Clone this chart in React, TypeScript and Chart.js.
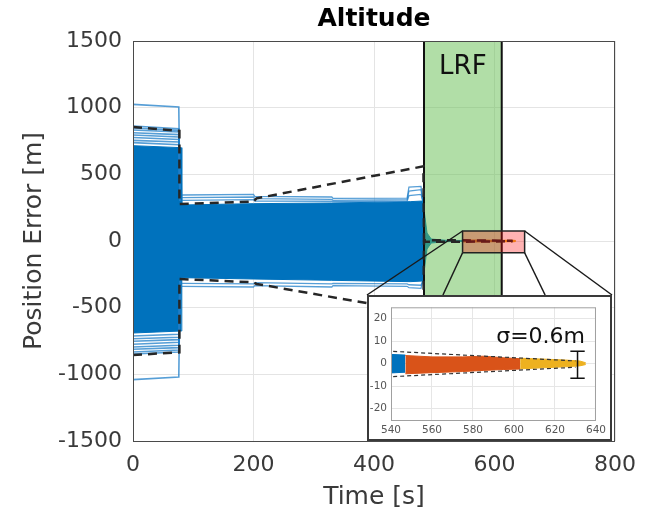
import React, { useEffect, useRef } from 'react';
import { Chart, registerables } from 'chart.js';

Chart.register(...registerables);

// ---------------- Main axes ----------------
const mainXTicks = [0, 200, 400, 600, 800];
const mainYTicks = [-1500, -1000, -500, 0, 500, 1000, 1500];
const mainXRange = [0, 800];
const mainYRange = [-1500, 1500];

// ---------------- Dense Monte Carlo spread (blue) ----------------
const denseTime = [0, 80, 81, 200, 330, 460, 481, 484, 488, 495, 520, 547];
const denseUpper = [715, 700, 270, 280, 285, 295, 300, 200, 60, 15, 5, 3.8];
const denseLower = [-690, -675, -275, -285, -295, -305, -300, -200, -60, -15, -5, -3.8];

// ---------------- Individual outlying runs (light blue) ----------------
const earlyRunTime = [0, 76, 78];
const earlyRuns = [
  [1025, 1005, 300],
  [862, 842, 300],
  [848, 830, 300],
  [833, 818, 300],
  [812, 798, 300],
  [795, 780, 300],
  [776, 762, 300],
  [755, 742, 300],
  [738, 722, 300],
  [-1040, -1020, -300],
  [-848, -832, -300],
  [-832, -818, -300],
  [-812, -800, -300],
  [-795, -782, -300],
  [-774, -760, -300],
  [-752, -740, -300],
  [-733, -722, -300],
  [-712, -700, -300],
];
const lateRunTime = [81, 200, 202, 330, 332, 455, 458, 478, 481];
const lateRuns = [
  [345, 350, 335, 330, 320, 322, 405, 410, 300],
  [325, 330, 318, 312, 305, 310, 375, 385, 300],
  [305, 310, 300, 298, 296, 300, 340, 350, 300],
  [-340, -345, -335, -345, -335, -340, -350, -355, -300],
  [-318, -322, -312, -322, -318, -322, -328, -332, -300],
];

// ---------------- 3-sigma envelope (dashed) ----------------
const sigmaTime = [0, 77, 77, 200, 205, 482, 483, 540, 630];
const sigmaUpper = [855, 825, 277, 295, 320, 560, 6, 5.5, 1.2];
const sigmaLower = [-855, -835, -285, -310, -322, -540, -6, -5.8, -1.6];

// ---------------- LRF phase bands ----------------
const orangeTime = [547, 560, 575, 585, 595, 603];
const orangeUpper = [3.6, 3.0, 3.0, 3.3, 2.6, 2.2];
const orangeLower = [-4.5, -4.0, -3.5, -3.0, -2.6, -2.4];
const yellowTime = [603, 615, 625, 632, 635];
const yellowUpper = [2.4, 2.0, 1.6, 1.2, 0.4];
const yellowLower = [-2.3, -1.8, -1.4, -1.0, -0.4];

// ---------------- Windows ----------------
const lrfWindow = [483, 612];
const zoomTimeWindow = [547, 650];
const zoomErrorWindow = [-88, 75];

// ---------------- Inset axes ----------------
const insetXTicks = [540, 560, 580, 600, 620, 640];
const insetYTicks = [-20, -10, 0, 10, 20];
const insetXRange = [540, 640];
const insetYRange = [-25, 25];
const sigmaBarTime = 631;
const sigmaBarRange = [-6.5, 5.5];
const sigmaBarCap = 3.5;

// ---------------- Texts ----------------
const titleText = 'Altitude';
const xTitle = 'Time [s]';
const yTitle = 'Position Error [m]';
const lrfText = 'LRF';
const sigmaText = 'σ=0.6m';

// ---------------- Style / layout ----------------
const FONT = "'DejaVu Sans', sans-serif";
const BLUE = '#0072BD';
const RUN = 'rgba(30,125,200,0.75)';
const ORANGE = '#D95319';
const YELLOW = '#EDB120';
const INSET = { left: 367, top: 295, width: 245, height: 146, border: 2 };

const pts = (xs: number[], ys: number[]) => xs.map((x, i) => ({ x, y: ys[i] }));
const rectPts = (xw: number[], yw: number[]) => [
  { x: xw[0], y: yw[0] },
  { x: xw[0], y: yw[1] },
  { x: xw[1], y: yw[1] },
  { x: xw[1], y: yw[0] },
  { x: xw[0], y: yw[0] },
];
const base = { pointRadius: 0, pointHoverRadius: 0, borderWidth: 1, tension: 0, fill: false };

const framePlugin = (color: string, width: number) => ({
  id: 'frame',
  afterDatasetsDraw(chart: any) {
    const { ctx, chartArea: a } = chart;
    ctx.save();
    ctx.strokeStyle = color;
    ctx.lineWidth = width;
    ctx.strokeRect(a.left + 0.5, a.top + 0.5, a.right - a.left - 1, a.bottom - a.top);
    ctx.restore();
  },
});

const mainAnnotations = {
  id: 'mainAnnotations',
  afterDraw(chart: any) {
    const { ctx, scales, chartArea } = chart;
    const xs = scales.x;
    const ys = scales.y;
    ctx.save();
    ctx.fillStyle = '#111';
    ctx.font = `26px ${FONT}`;
    ctx.textAlign = 'center';
    ctx.textBaseline = 'middle';
    ctx.fillText(lrfText, xs.getPixelForValue((lrfWindow[0] + lrfWindow[1]) / 2), chartArea.top + 26);
    const x0 = xs.getPixelForValue(zoomTimeWindow[0]);
    const x1 = xs.getPixelForValue(zoomTimeWindow[1]);
    const yT = ys.getPixelForValue(zoomErrorWindow[1]);
    const yB = ys.getPixelForValue(zoomErrorWindow[0]);
    const iT = INSET.top;
    const lines = [
      [x0, yT, INSET.left, iT],
      [x1, yT, INSET.left + INSET.width, iT],
      [x0, yB, INSET.left + INSET.width * 0.31, iT],
      [x1, yB, INSET.left + INSET.width * 0.727, iT],
    ];
    ctx.strokeStyle = '#1a1a1a';
    ctx.lineWidth = 1.5;
    lines.forEach(([a, b, c, d]) => {
      ctx.beginPath();
      ctx.moveTo(a, b);
      ctx.lineTo(c, d);
      ctx.stroke();
    });
    ctx.restore();
  },
};

const insetAnnotations = {
  id: 'insetAnnotations',
  afterDraw(chart: any) {
    const { ctx, scales } = chart;
    ctx.save();
    ctx.fillStyle = '#111';
    ctx.font = `22px ${FONT}`;
    ctx.textAlign = 'center';
    ctx.textBaseline = 'middle';
    ctx.fillText(sigmaText, scales.x.getPixelForValue(613), scales.y.getPixelForValue(11.5));
    ctx.restore();
  },
};

function mainConfig(): any {
  const datasets: any[] = [
    { ...base, label: 'dense+', data: pts(denseTime, denseUpper), borderColor: BLUE, backgroundColor: BLUE, fill: '+1', order: 10 },
    { ...base, label: 'dense-', data: pts(denseTime, denseLower), borderColor: BLUE, order: 10 },
  ];
  earlyRuns.forEach((r, i) =>
    datasets.push({ ...base, label: 'early' + i, data: pts(earlyRunTime, r), borderColor: RUN, borderWidth: 1.6, order: 9 })
  );
  lateRuns.forEach((r, i) =>
    datasets.push({ ...base, label: 'late' + i, data: pts(lateRunTime, r), borderColor: RUN, borderWidth: 1.3, order: 9 })
  );
  datasets.push(
    { ...base, label: 'orange+', data: pts(orangeTime, orangeUpper), borderColor: ORANGE, backgroundColor: ORANGE, borderWidth: 2, fill: '+1', order: 8 },
    { ...base, label: 'orange-', data: pts(orangeTime, orangeLower), borderColor: ORANGE, borderWidth: 2, order: 8 },
    { ...base, label: 'yellow+', data: pts(yellowTime, yellowUpper), borderColor: YELLOW, backgroundColor: YELLOW, borderWidth: 2, fill: '+1', order: 8 },
    { ...base, label: 'yellow-', data: pts(yellowTime, yellowLower), borderColor: YELLOW, borderWidth: 2, order: 8 },
    { ...base, label: 'LRF', data: rectPts(lrfWindow, mainYRange), borderColor: '#111', backgroundColor: 'rgba(100,190,80,0.5)', borderWidth: 2, fill: 'shape', order: 5 },
    { ...base, label: 'sigma+', data: pts(sigmaTime, sigmaUpper), borderColor: '#262626', borderDash: [9, 6], borderWidth: 2.5, order: 3 },
    { ...base, label: 'sigma-', data: pts(sigmaTime, sigmaLower), borderColor: '#262626', borderDash: [9, 6], borderWidth: 2.5, order: 3 },
    { ...base, label: 'zoom', data: rectPts(zoomTimeWindow, zoomErrorWindow), borderColor: '#222', backgroundColor: 'rgba(255,0,0,0.3)', borderWidth: 1.5, fill: 'shape', order: 1 }
  );
  return {
    type: 'line',
    data: { datasets },
    options: {
      animation: false,
      responsive: false,
      devicePixelRatio: 1,
      events: [],
      layout: { padding: { left: 0, right: 45, top: 0, bottom: 0 } },
      plugins: {
        legend: { display: false },
        tooltip: { enabled: false },
        title: {
          display: true,
          text: titleText,
          fullSize: false,
          color: '#000',
          font: { family: FONT, size: 25, weight: 'bold', lineHeight: 1.2 },
          padding: { top: 4, bottom: 7 },
        },
      },
      scales: {
        x: {
          type: 'linear',
          min: mainXRange[0],
          max: mainXRange[1],
          afterBuildTicks: (s: any) => { s.ticks = mainXTicks.map((v) => ({ value: v })); },
          afterFit: (s: any) => { s.height = 73; },
          grid: { color: '#e4e4e4', drawTicks: false },
          border: { display: false },
          ticks: { color: '#3a3a3a', padding: 11, maxRotation: 0, font: { family: FONT, size: 22 }, callback: (v: any) => String(v) },
          title: { display: true, text: xTitle, color: '#3a3a3a', font: { family: FONT, size: 25, lineHeight: 1.2 }, padding: { top: 0, bottom: 2 } },
        },
        y: {
          type: 'linear',
          min: mainYRange[0],
          max: mainYRange[1],
          afterBuildTicks: (s: any) => { s.ticks = mainYTicks.map((v) => ({ value: v })); },
          afterFit: (s: any) => { s.width = 133; },
          grid: { color: '#e4e4e4', drawTicks: false },
          border: { display: false },
          ticks: { color: '#3a3a3a', padding: 11, font: { family: FONT, size: 22 }, callback: (v: any) => String(v) },
          title: { display: true, text: yTitle, color: '#3a3a3a', font: { family: FONT, size: 25, lineHeight: 1.2 }, padding: { top: 19, bottom: 0 } },
        },
      },
    },
    plugins: [framePlugin('#4a4a4a', 1), mainAnnotations],
  };
}

function insetConfig(): any {
  const datasets: any[] = [
    { ...base, label: 'dense+', data: pts(denseTime, denseUpper), borderColor: BLUE, backgroundColor: BLUE, fill: '+1', order: 10 },
    { ...base, label: 'dense-', data: pts(denseTime, denseLower), borderColor: BLUE, order: 10 },
    { ...base, label: 'orange+', data: pts(orangeTime, orangeUpper), borderColor: ORANGE, backgroundColor: ORANGE, fill: '+1', order: 8 },
    { ...base, label: 'orange-', data: pts(orangeTime, orangeLower), borderColor: ORANGE, order: 8 },
    { ...base, label: 'yellow+', data: pts(yellowTime, yellowUpper), borderColor: YELLOW, backgroundColor: YELLOW, fill: '+1', order: 8 },
    { ...base, label: 'yellow-', data: pts(yellowTime, yellowLower), borderColor: YELLOW, order: 8 },
    { ...base, label: 'sigma+', data: pts(sigmaTime, sigmaUpper), borderColor: '#333', borderDash: [4, 3], borderWidth: 1.2, order: 3 },
    { ...base, label: 'sigma-', data: pts(sigmaTime, sigmaLower), borderColor: '#333', borderDash: [4, 3], borderWidth: 1.2, order: 3 },
    { ...base, label: 'bar', data: [{ x: sigmaBarTime, y: sigmaBarRange[0] }, { x: sigmaBarTime, y: sigmaBarRange[1] }], borderColor: '#111', borderWidth: 1.5, order: 1 },
    { ...base, label: 'capTop', data: [{ x: sigmaBarTime - sigmaBarCap, y: sigmaBarRange[1] }, { x: sigmaBarTime + sigmaBarCap, y: sigmaBarRange[1] }], borderColor: '#111', borderWidth: 1.5, order: 1 },
    { ...base, label: 'capBot', data: [{ x: sigmaBarTime - sigmaBarCap, y: sigmaBarRange[0] }, { x: sigmaBarTime + sigmaBarCap, y: sigmaBarRange[0] }], borderColor: '#111', borderWidth: 1.5, order: 1 },
  ];
  return {
    type: 'line',
    data: { datasets },
    options: {
      animation: false,
      responsive: false,
      devicePixelRatio: 1,
      events: [],
      layout: { padding: { left: 0, right: 12, top: 6, bottom: 0 } },
      plugins: { legend: { display: false }, tooltip: { enabled: false }, title: { display: false } },
      scales: {
        x: {
          type: 'linear',
          min: insetXRange[0],
          max: insetXRange[1],
          afterBuildTicks: (s: any) => { s.ticks = insetXTicks.map((v) => ({ value: v })); },
          afterFit: (s: any) => { s.height = 19; },
          grid: { color: '#e6e6e6', drawTicks: false },
          border: { display: false },
          ticks: { color: '#555', padding: 4, maxRotation: 0, font: { family: FONT, size: 10.5 }, callback: (v: any) => String(v) },
        },
        y: {
          type: 'linear',
          min: insetYRange[0],
          max: insetYRange[1],
          afterBuildTicks: (s: any) => { s.ticks = insetYTicks.map((v) => ({ value: v })); },
          afterFit: (s: any) => { s.width = 22; },
          grid: { color: '#e6e6e6', drawTicks: false },
          border: { display: false },
          ticks: { color: '#555', padding: 4, font: { family: FONT, size: 10.5 }, callback: (v: any) => String(v) },
        },
      },
    },
    plugins: [framePlugin('#a0a0a0', 1), insetAnnotations],
  };
}

export default function App() {
  const mainRef = useRef<HTMLCanvasElement>(null);
  const insetRef = useRef<HTMLCanvasElement>(null);
  useEffect(() => {
    const main = new Chart(mainRef.current as HTMLCanvasElement, mainConfig());
    const inset = new Chart(insetRef.current as HTMLCanvasElement, insetConfig());
    return () => {
      main.destroy();
      inset.destroy();
    };
  }, []);
  const innerW = INSET.width - 2 * INSET.border;
  const innerH = INSET.height - 2 * INSET.border;
  return (
    <div style={{ position: 'absolute', left: 0, top: 0, width: 660, height: 514, background: '#fff' }}>
      <canvas ref={mainRef} width={660} height={514} style={{ position: 'absolute', left: 0, top: 0 }} />
      <div
        style={{
          position: 'absolute',
          left: INSET.left,
          top: INSET.top,
          width: INSET.width,
          height: INSET.height,
          boxSizing: 'border-box',
          border: `${INSET.border}px solid #3a3a3a`,
          background: '#fff',
        }}
      >
        <canvas ref={insetRef} width={innerW} height={innerH} style={{ display: 'block' }} />
      </div>
    </div>
  );
}
